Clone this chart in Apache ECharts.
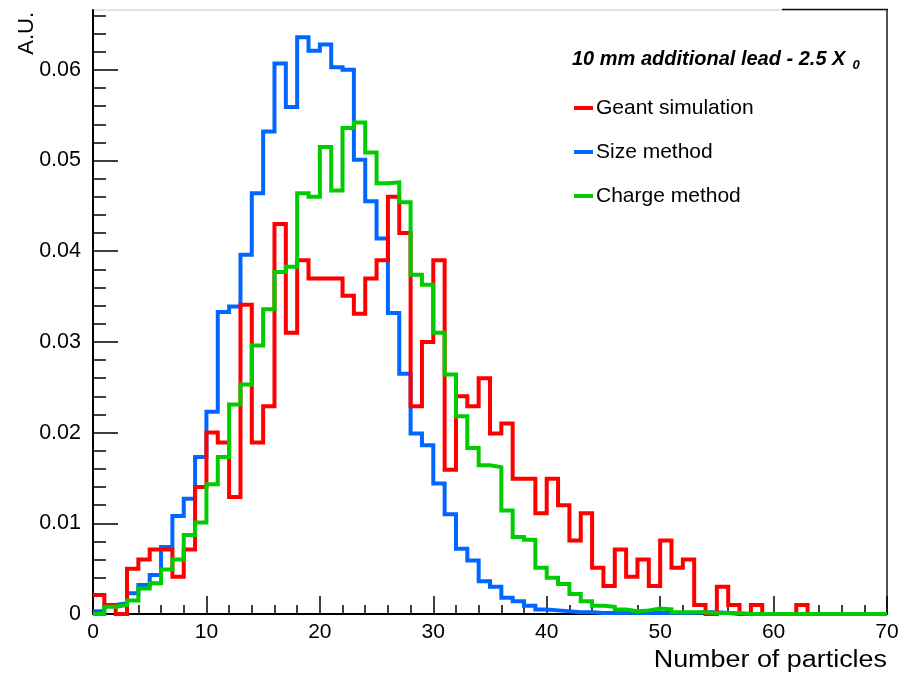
<!DOCTYPE html>
<html>
<head>
<meta charset="utf-8">
<script src="https://cdn.jsdelivr.net/npm/echarts@6/dist/echarts.min.js"></script>
<style>
  html, body { margin: 0; padding: 0; background: #ffffff; }
  #chart { width: 905px; height: 676px; }
</style>
</head>
<body>
<div id="chart"></div>
<script>
// Histogram binning: 70 bins of width 1 from 0 to 70
const xMin = 0;
const xMax = 70;
const binWidth = 1;

// Normalised bin contents (A.U.), one value per bin starting at x = 0
const geantSimulation = [
  0.0021, 0.0010, 0.0000, 0.0050, 0.0060, 0.0071, 0.0071, 0.0041, 0.0071, 0.0140,
  0.0200, 0.0189, 0.0129, 0.0341, 0.0189, 0.0229, 0.0430, 0.0310, 0.0390, 0.0370,
  0.0370, 0.0370, 0.0351, 0.0331, 0.0370, 0.0390, 0.0460, 0.0420, 0.0229, 0.0300,
  0.0390, 0.0159, 0.0240, 0.0229, 0.0260, 0.0199, 0.0210, 0.0149, 0.0149, 0.0111,
  0.0149, 0.0120, 0.0081, 0.0111, 0.0051, 0.0031, 0.0071, 0.0041, 0.0060, 0.0031,
  0.0081, 0.0051, 0.0060, 0.0010, 0.0000, 0.0030, 0.0010, 0.0000, 0.0010, 0.0000,
  0.0000, 0.0000, 0.0010, 0.0000, 0.0000, 0.0000, 0.0000, 0.0000, 0.0000, 0.0000
];

const sizeMethod = [
  0.0003, 0.0010, 0.0012, 0.0023, 0.0032, 0.0043, 0.0074, 0.0108, 0.0127, 0.0173,
  0.0223, 0.0333, 0.0339, 0.0396, 0.0464, 0.0532, 0.0607, 0.0559, 0.0636, 0.0621,
  0.0628, 0.0603, 0.0600, 0.0501, 0.0455, 0.0414, 0.0332, 0.0265, 0.0199, 0.0186,
  0.0144, 0.0110, 0.0072, 0.0059, 0.0036, 0.0030, 0.0018, 0.0014, 0.0009, 0.0005,
  0.0004, 0.0003, 0.0002, 0.0002, 0.0001, 0.0001, 0.0001, 0.0001, 0.0001, 0.0001,
  0.0001, 0.0001, 0.0001, 0.0002, 0.0002, 0.0001, 0.0000, 0.0000, 0.0000, 0.0000,
  0.0000, 0.0000, 0.0000, 0.0000, 0.0000, 0.0000, 0.0000, 0.0000, 0.0000, 0.0000
];

const chargeMethod = [
  0.0000, 0.0008, 0.0010, 0.0015, 0.0028, 0.0034, 0.0049, 0.0060, 0.0087, 0.0101,
  0.0143, 0.0173, 0.0231, 0.0253, 0.0296, 0.0336, 0.0377, 0.0383, 0.0464, 0.0460,
  0.0515, 0.0467, 0.0536, 0.0542, 0.0509, 0.0475, 0.0476, 0.0454, 0.0374, 0.0363,
  0.0310, 0.0264, 0.0218, 0.0183, 0.0164, 0.0162, 0.0114, 0.0085, 0.0082, 0.0051,
  0.0040, 0.0033, 0.0022, 0.0014, 0.0009, 0.0008, 0.0005, 0.0003, 0.0004, 0.0006,
  0.0005, 0.0002, 0.0002, 0.0002, 0.0001, 0.0001, 0.0001, 0.0000, 0.0000, 0.0000,
  0.0000, 0.0000, 0.0000, 0.0000, 0.0000, 0.0000, 0.0000, 0.0000, 0.0000, 0.0000
];

// Axis ticks
const yMax = 0.0666;
const yMajorTicks = [0, 0.01, 0.02, 0.03, 0.04, 0.05, 0.06];
const yMajorLabels = ['0', '0.01', '0.02', '0.03', '0.04', '0.05', '0.06'];
const yMinorTicks = [
  0.002, 0.004, 0.006, 0.008, 0.012, 0.014, 0.016, 0.018, 0.022, 0.024, 0.026, 0.028,
  0.032, 0.034, 0.036, 0.038, 0.042, 0.044, 0.046, 0.048, 0.052, 0.054, 0.056, 0.058,
  0.062, 0.064, 0.066
];

const seriesNames = ['Geant simulation', 'Size method', 'Charge method'];
const seriesColors = { 'Geant simulation': '#ff0000', 'Size method': '#0066ff', 'Charge method': '#00cc00' };
const titleText = '10 mm additional lead - 2.5 X';
const titleSub = '0';
const xTitle = 'Number of particles';
const yTitle = 'A.U.';

// Turn bin contents into step-line points: left edge of each bin, plus the right edge of the last one
function histogramPoints(values) {
  const pts = values.map((v, i) => [xMin + i * binWidth, v]);
  pts.push([xMin + values.length * binWidth, values[values.length - 1]]);
  return pts;
}

const FONT = '"Liberation Sans", Arial, Helvetica, sans-serif';

function histSeries(name, values) {
  return {
    name: name,
    type: 'line',
    step: 'end',
    data: histogramPoints(values),
    showSymbol: false,
    symbol: 'none',
    color: seriesColors[name],
    lineStyle: { color: seriesColors[name], width: 4, join: 'miter', cap: 'butt' },
    itemStyle: { color: seriesColors[name] },
    emphasis: { disabled: true },
    animation: false
  };
}

const chart = echarts.init(document.getElementById('chart'), null, { renderer: 'canvas' });

chart.setOption({
  backgroundColor: '#ffffff',
  animation: false,
  textStyle: { fontFamily: FONT },
  grid: {
    left: 93, right: 18, top: 10, bottom: 62,
    containLabel: false,
    show: true,
    borderColor: '#c8c8c8',
    borderWidth: 1,
    backgroundColor: 'transparent'
  },
  title: {
    left: 572,
    top: 46,
    padding: 0,
    text: '{main|' + titleText + '}{sub|' + titleSub + '}',
    textStyle: {
      rich: {
        main: { fontFamily: FONT, fontSize: 20, fontWeight: 'bold', fontStyle: 'italic', color: '#000', lineHeight: 26 },
        sub: { fontFamily: FONT, fontSize: 13, fontWeight: 'bold', fontStyle: 'italic', color: '#000', padding: [12, 0, 0, 7], lineHeight: 26 }
      }
    }
  },
  legend: {
    data: seriesNames,
    orient: 'vertical',
    left: 574,
    top: 97,
    padding: 0,
    itemWidth: 19,
    itemHeight: 4,
    itemGap: 22,
    icon: 'rect',
    selectedMode: false,
    textStyle: { fontFamily: FONT, fontSize: 21, color: '#000', lineHeight: 22, padding: [0, 0, 0, -2] }
  },
  xAxis: [{
    type: 'value',
    min: xMin,
    max: xMax,
    interval: 10,
    position: 'bottom',
    axisLine: { show: true, onZero: false, lineStyle: { color: '#000', width: 2 } },
    axisTick: { show: true, inside: true, length: 18, lineStyle: { color: '#000', width: 1.5 } },
    minorTick: { show: true, splitNumber: 5, length: 9, lineStyle: { color: '#000', width: 1.5 } },
    axisLabel: { show: true, margin: 8, fontFamily: FONT, fontSize: 21, color: '#000' },
    splitLine: { show: false },
    minorSplitLine: { show: false }
  }],
  yAxis: [{
    type: 'value',
    min: 0,
    max: yMax,
    position: 'left',
    axisLine: { show: true, onZero: false, lineStyle: { color: '#000', width: 2 } },
    axisTick: { show: true, inside: true, length: 25, customValues: yMajorTicks, lineStyle: { color: '#000', width: 1.5 } },
    axisLabel: {
      show: true, margin: 12, fontFamily: FONT, fontSize: 21.5, color: '#000',
      customValues: yMajorTicks,
      formatter: function (v) {
        const i = yMajorTicks.findIndex(t => Math.abs(t - v) < 1e-9);
        return i >= 0 ? yMajorLabels[i] : '';
      }
    },
    splitLine: { show: false }
  }, {
    type: 'value',
    min: 0,
    max: yMax,
    position: 'left',
    axisLine: { show: false },
    axisTick: { show: true, inside: true, length: 13, customValues: yMinorTicks, lineStyle: { color: '#000', width: 1.5 } },
    axisLabel: { show: false },
    splitLine: { show: false }
  }, {
    type: 'value',
    min: 0,
    max: yMax,
    position: 'right',
    axisLine: { show: true, onZero: false, lineStyle: { color: '#222', width: 1.5 } },
    axisTick: { show: false },
    axisLabel: { show: false },
    splitLine: { show: false }
  }],
  graphic: [
    {
      type: 'line',
      shape: { x1: 782, y1: 9.5, x2: 888, y2: 9.5 },
      style: { stroke: '#111', lineWidth: 1.5 },
      silent: true
    },
    {
      // axis title, drawn slightly widened like the original typesetting
      type: 'text',
      x: 887,
      y: 661,
      scaleX: 1.17,
      style: { text: xTitle, font: '23px ' + FONT, fill: '#000', align: 'right', verticalAlign: 'middle' },
      silent: true
    },
    {
      type: 'text',
      x: 27,
      y: 12,
      rotation: Math.PI / 2,
      style: { text: yTitle, font: '22px ' + FONT, fill: '#000', align: 'right', verticalAlign: 'middle' },
      silent: true
    }
  ],
  series: [
    histSeries('Size method', sizeMethod),
    histSeries('Geant simulation', geantSimulation),
    histSeries('Charge method', chargeMethod)
  ]
});
</script>
</body>
</html>
